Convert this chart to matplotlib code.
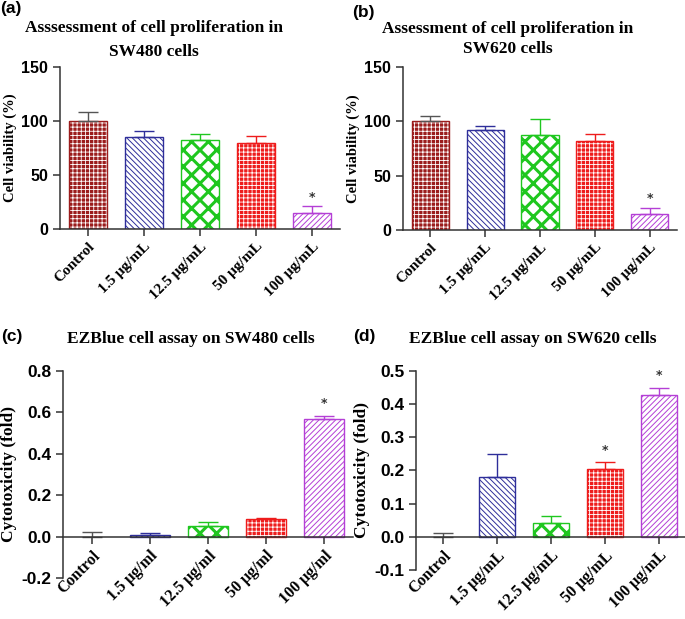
import numpy as np
import matplotlib
matplotlib.use("Agg")
import matplotlib.pyplot as plt

# categories
cats_ml_upper = ['Control', '1.5 μg/mL', '12.5 μg/mL', '50 μg/mL', '100 μg/mL']
cats_ml_lower = ['Control', '1.5 μg/ml', '12.5 μg/ml', '50 μg/ml', '100 μg/ml']

# (a) SW480 viability
via480 = [100, 85, 82, 80, 15]
via480_err = [8, 6, 6, 6.5, 6]
# (b) SW620 viability
via620 = [100, 92, 87, 82, 15]
via620_err = [5, 3.5, 15, 6, 5]
# (c) SW480 cytotoxicity
cyt480 = [0.0, 0.01, 0.05, 0.085, 0.57]
cyt480_err = [0.022, 0.006, 0.022, 0.005, 0.015]
# (d) SW620 cytotoxicity
cyt620 = [0.0, 0.18, 0.043, 0.205, 0.427]
cyt620_err = [0.013, 0.07, 0.019, 0.02, 0.023]

stars_a = [4]
stars_b = [4]
stars_c = [4]
stars_d = [3, 4]

colors = ['#9b1c1c', '#2e2e9a', '#1fc71f', '#ee1c1c', '#b43fd6']
filled = [True, False, False, True, False]
hatches = ['++++', '\\\\\\\\\\\\', 'xx', '++++', '//////']
hatch_lw = [0.6, 0.7, 2.2, 0.6, 0.7]

serif = 'Liberation Serif'
sans = 'Liberation Sans'

fig = plt.figure(figsize=(6.85, 6.19), dpi=100)


def px(l, t, r, b):
    W, H = 685, 619
    return [l / W, 1 - b / H, (r - l) / W, (b - t) / H]


def panel(rect, vals, errs, stars, cats, ylim, yticks, ylabel, ylfs, tfs, xfs, star_off):
    ax = fig.add_axes(rect)
    ax.spines['top'].set_visible(False)
    ax.spines['right'].set_visible(False)
    if ylim[0] < 0:
        ax.spines['bottom'].set_position(('data', 0))
    w = 0.68
    for i, (v, e) in enumerate(zip(vals, errs)):
        c = colors[i]
        if v != 0:
            with plt.rc_context({'hatch.linewidth': hatch_lw[i]}):
                if filled[i]:
                    ax.bar(i, v, w, color=c, edgecolor='white', hatch=hatches[i], linewidth=0)
                    ax.bar(i, v, w, fill=False, edgecolor=c, linewidth=1.0)
                else:
                    ax.bar(i, v, w, color='white', edgecolor=c, hatch=hatches[i], linewidth=1.0)
        ax.errorbar(i, v, yerr=[[0], [e]], fmt='none', ecolor=c if i else '#555555',
                    elinewidth=1.0, capsize=7, capthick=1.0)
    for i in stars:
        ax.annotate('*', (i, vals[i] + errs[i]), xytext=(0, star_off), textcoords='offset points',
                    ha='center', va='bottom', fontsize=9, fontweight='bold', color='#333333')
    ax.set_xlim(-0.5, 4.5)
    ax.set_ylim(*ylim)
    ax.set_yticks(yticks)
    ax.set_yticklabels([('%g' % t) if isinstance(t, int) else ('%.1f' % t) for t in yticks],
                       fontfamily=sans, fontweight='bold', fontsize=tfs)
    ax.set_xticks(range(len(cats)))
    ax.set_xticklabels(cats, rotation=45, ha='right', rotation_mode='anchor',
                       fontfamily=serif, fontweight='bold', fontsize=xfs)
    for s in ('left', 'bottom'):
        ax.spines[s].set_linewidth(1.1)
        ax.spines[s].set_color('#333333')
    ax.tick_params(axis='both', direction='out', length=5, width=1.1, color='#333333')
    ax.tick_params(axis='x', pad=3)
    ax.set_ylabel(ylabel, fontfamily=serif, fontweight='bold', fontsize=ylfs, labelpad=3)
    return ax


ax_a = panel(px(60, 67, 340, 229), via480, via480_err, stars_a, cats_ml_upper,
             (0, 150), [0, 50, 100, 150], 'Cell viability (%)', 10.5, 11.5, 11, 2)
ax_b = panel(px(403, 67, 677, 230), via620, via620_err, stars_b, cats_ml_upper,
             (0, 150), [0, 50, 100, 150], 'Cell viability (%)', 10.5, 11.5, 11, 2)
ax_c = panel(px(63, 371, 353, 578), cyt480, cyt480_err, stars_c, cats_ml_lower,
             (-0.2, 0.8), [-0.2, 0.0, 0.2, 0.4, 0.6, 0.8], 'Cytotoxicity (fold)', 12.5, 12.5, 11.5, 4)
ax_d = panel(px(416, 371, 686, 570), cyt620, cyt620_err, stars_d, cats_ml_upper,
             (-0.1, 0.5), [-0.1, 0.0, 0.1, 0.2, 0.3, 0.4, 0.5], 'Cytotoxicity (fold)', 12.5, 12.5, 11.5, 4)


# titles
def ftext(x, y, s, **kw):
    fig.text(x / 685, 1 - y / 619, s, **kw)


tkw = dict(fontfamily=serif, fontweight='bold', fontsize=12.5, ha='center', va='center')
ftext(154, 28, 'Asssessment of cell proliferation in', **tkw)
ftext(154, 52, 'SW480 cells', **tkw)
ftext(508, 29, 'Assessment of cell proliferation in', **tkw)
ftext(508, 49, 'SW620 cells', **tkw)
ftext(191, 339, 'EZBlue cell assay on SW480 cells', **tkw)
ftext(533, 339, 'EZBlue cell assay on SW620 cells', **tkw)

lkw = dict(fontfamily=sans, fontweight='bold', fontsize=12.5, ha='left', va='center')
ftext(0, 9, '(a)', **lkw)
ftext(352, 13, '(b)', **lkw)
ftext(1, 336, '(c)', **lkw)
ftext(353, 336, '(d)', **lkw)

fig.savefig('out.png', dpi=100)
